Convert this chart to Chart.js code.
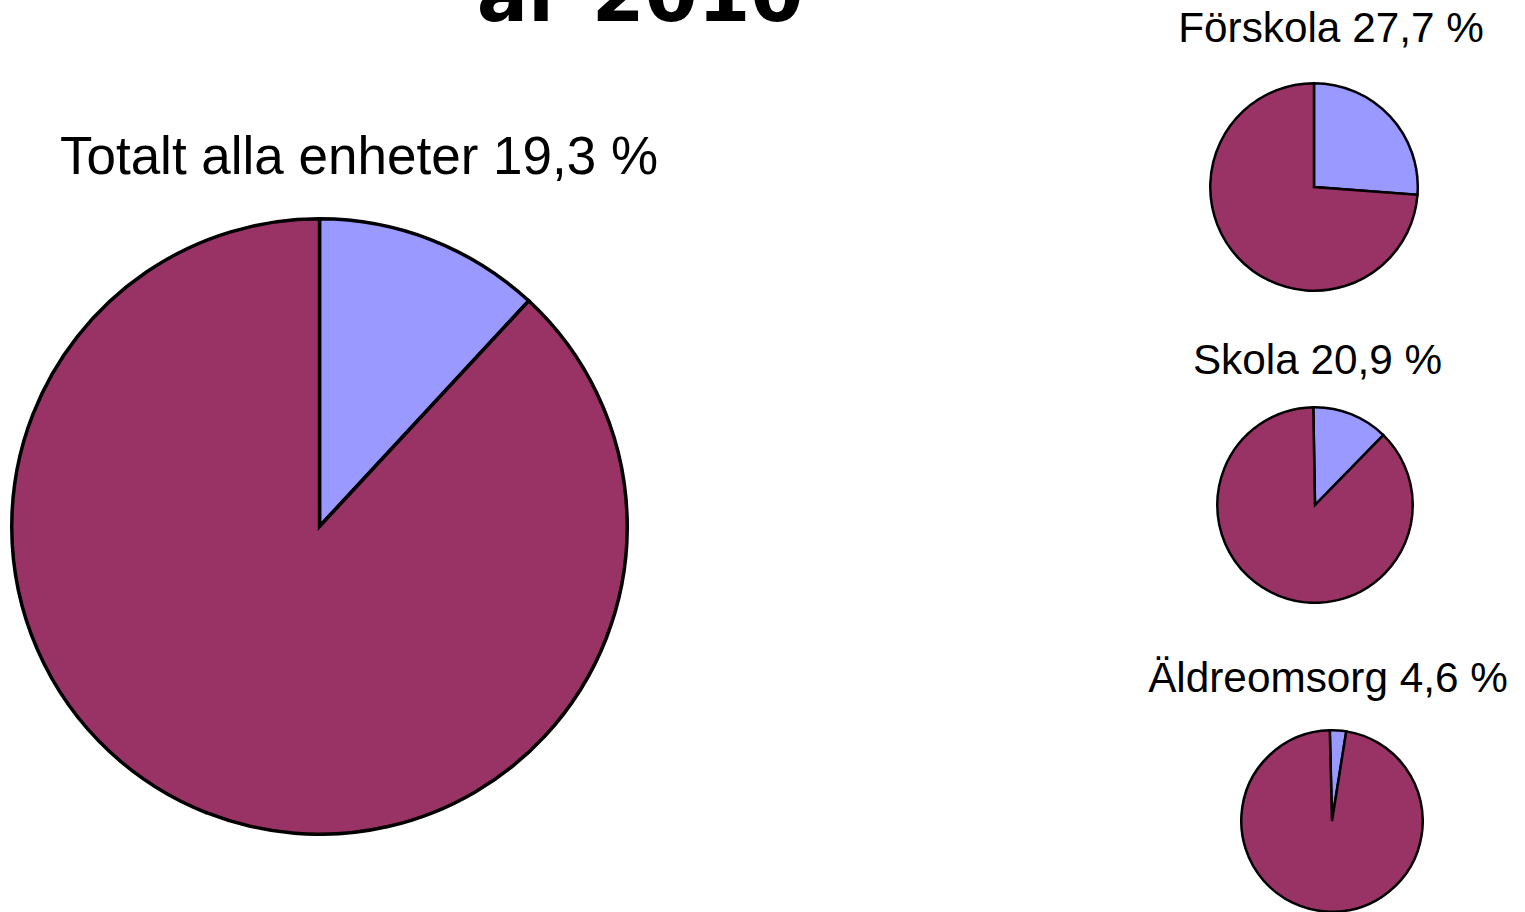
<!DOCTYPE html>
<html lang="sv">
<head>
<meta charset="utf-8">
<title>Andel per enhet år 2010</title>
<script src="https://cdn.jsdelivr.net/npm/chart.js@4/dist/chart.umd.min.js"></script>
<style>
  html, body {
    margin: 0;
    padding: 0;
    background: #ffffff;
    width: 1525px;
    height: 912px;
    overflow: hidden;
    position: relative;
  }
  .label {
    position: absolute;
    white-space: nowrap;
    font-family: "Liberation Sans", Arial, sans-serif;
    color: #000000;
    line-height: 1;
    transform: translateX(-50%);
  }
  .title {
    position: absolute;
    white-space: nowrap;
    font-family: "DejaVu Sans", sans-serif;
    font-weight: bold;
    font-size: 76px;
    line-height: 1;
    left: 640px;
    top: -43px;
    transform: translateX(-50%);
  }
  .pie {
    position: absolute;
  }
</style>
</head>
<body>

<div class="title">år 2010</div>

<script>
// Pie data: one pie per unit, blue part vs the rest
const unitNames = ["Totalt alla enheter", "Förskola", "Skola", "Äldreomsorg"];
const unitPercentText = ["19,3 %", "27,7 %", "20,9 %", "4,6 %"];
const sliceNames = ["Andel", "Övrigt"];
const blueValues = [11.9, 26.2, 12.6, 2.9];
const restValues = [88.1, 73.8, 87.4, 97.1];

// Layout for each pie (position, size, label placement)
const layout = [
  { left: 10, top: 217, size: 619, border: 3.5, rotation: 0, labelX: 359, labelTop: 128.6, fontSize: 53 },
  { left: 1209, top: 82, size: 210, border: 2.5, rotation: 0, labelX: 1331, labelTop: 7, fontSize: 42.3 },
  { left: 1216, top: 406, size: 198, border: 2.5, rotation: -1, labelX: 1317.5, labelTop: 339, fontSize: 42.3 },
  { left: 1240, top: 729, size: 184, border: 2.5, rotation: -1.4, labelX: 1328, labelTop: 657, fontSize: 42.3 },
];

const colors = {
  blue: "#9999ff",
  maroon: "#993366",
  border: "#000000",
};

function addLabel(i) {
  const div = document.createElement("div");
  div.className = "label";
  div.textContent = unitNames[i] + " " + unitPercentText[i];
  div.style.left = layout[i].labelX + "px";
  div.style.top = layout[i].labelTop + "px";
  div.style.fontSize = layout[i].fontSize + "px";
  document.body.appendChild(div);
}

function addPie(i) {
  const box = layout[i];
  const canvas = document.createElement("canvas");
  canvas.className = "pie";
  canvas.width = box.size;
  canvas.height = box.size;
  canvas.style.left = box.left + "px";
  canvas.style.top = box.top + "px";
  canvas.style.width = box.size + "px";
  canvas.style.height = box.size + "px";
  document.body.appendChild(canvas);

  new Chart(canvas, {
    type: "pie",
    data: {
      labels: sliceNames,
      datasets: [
        {
          data: [blueValues[i], restValues[i]],
          backgroundColor: [colors.blue, colors.maroon],
          borderColor: colors.border,
          borderWidth: box.border,
          borderJoinStyle: "miter",
        },
      ],
    },
    options: {
      responsive: false,
      animation: false,
      rotation: box.rotation,
      layout: { padding: 0 },
      plugins: {
        legend: { display: false },
        tooltip: { enabled: false },
        title: { display: false },
      },
    },
  });
}

for (let i = 0; i < unitNames.length; i++) {
  addLabel(i);
  addPie(i);
}
</script>
</body>
</html>
